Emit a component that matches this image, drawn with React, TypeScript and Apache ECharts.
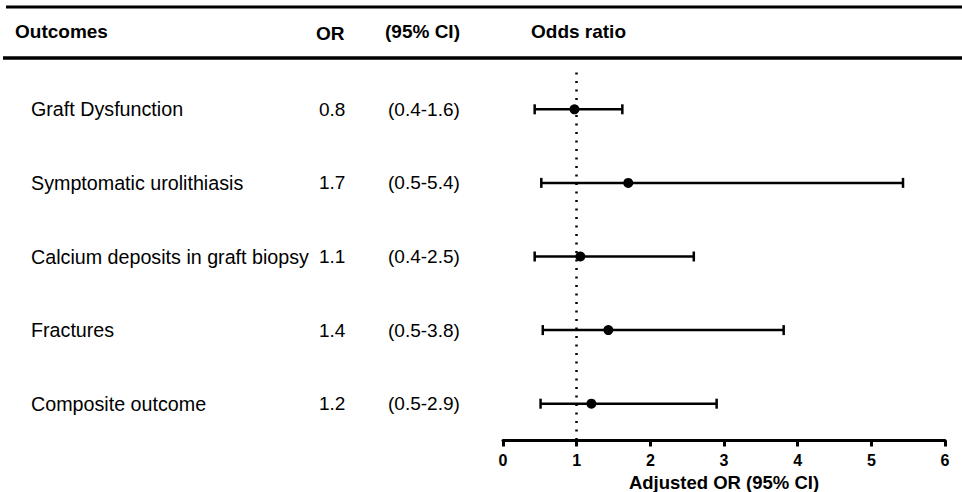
import React, { useEffect, useRef } from "react";
import * as echarts from "echarts";

const outcomes = [
  "Graft Dysfunction",
  "Symptomatic urolithiasis",
  "Calcium deposits in graft biopsy",
  "Fractures",
  "Composite outcome",
];
const orLabels = ["0.8", "1.7", "1.1", "1.4", "1.2"];
const ciLabels = ["(0.4-1.6)", "(0.5-5.4)", "(0.4-2.5)", "(0.5-3.8)", "(0.5-2.9)"];
// plotted positions
const pointEstimates = [0.97, 1.7, 1.05, 1.43, 1.2];
const ciLow = [0.43, 0.52, 0.43, 0.54, 0.51];
const ciHigh = [1.62, 5.43, 2.59, 3.81, 2.9];
const xTicks = [0, 1, 2, 3, 4, 5, 6];
const headers = ["Outcomes", "OR", "(95% CI)", "Odds ratio"];

const FONT = "'Liberation Sans', Arial, Helvetica, sans-serif";

export default function App() {
  const ref = useRef<HTMLDivElement>(null);
  useEffect(() => {
    if (!ref.current) return;
    const chart = echarts.init(ref.current, null, { renderer: "svg" });
    const rows = outcomes.map((_, i) => i);
    const option: any = {
      animation: false,
      backgroundColor: "#fff",
      grid: {
        left: 503,
        right: 17,
        top: 72.5,
        bottom: 51.5,
        containLabel: false,
        outerBoundsMode: "none",
      },
      xAxis: {
        type: "value",
        min: xTicks[0],
        max: xTicks[xTicks.length - 1],
        interval: 1,
        splitLine: { show: false },
        axisLine: { show: true, onZero: false, lineStyle: { color: "#000", width: 3 } },
        axisTick: { show: true, length: 6, lineStyle: { color: "#000", width: 3 } },
        axisLabel: {
          color: "#000",
          fontFamily: FONT,
          fontWeight: "bold",
          fontSize: 16,
          lineHeight: 16,
          margin: 12,
        },
        name: "Adjusted OR (95% CI)",
        nameLocation: "middle",
        nameGap: 32,
        nameMoveOverlap: false,
        nameTextStyle: {
          color: "#000",
          fontFamily: FONT,
          fontWeight: "bold",
          fontSize: 18.5,
          lineHeight: 19,
        },
      },
      yAxis: {
        type: "value",
        min: -0.5,
        max: 4.5,
        inverse: true,
        show: false,
      },
      graphic: [
        { type: "line", shape: { x1: 6, y1: 7, x2: 962, y2: 7 }, style: { stroke: "#000", lineWidth: 3 } },
        { type: "line", shape: { x1: 3, y1: 58, x2: 962, y2: 58 }, style: { stroke: "#000", lineWidth: 3.5 } },
        ...headers.map((h, i) => ({
          type: "text",
          x: [15, 316, 385, 531][i],
          y: [31, 33, 31, 31][i],
          style: {
            text: h,
            fill: "#000",
            font: `bold 19px ${FONT}`,
            textVerticalAlign: "middle",
            verticalAlign: "middle",
          },
        })),
      ],
      series: [
        {
          type: "custom",
          name: "labels",
          clip: false,
          data: rows.map((r) => [0, r]),
          renderItem: (params: any, api: any) => {
            const i = params.dataIndex;
            const y = api.coord([0, api.value(1)])[1];
            const mk = (text: string, x: number, size: number) => ({
              type: "text",
              x,
              y,
              style: {
                text,
                fill: "#000",
                font: `${size}px ${FONT}`,
                verticalAlign: "middle",
                textVerticalAlign: "middle",
              },
            });
            return {
              type: "group",
              children: [mk(outcomes[i], 31, 19.7), mk(orLabels[i], 319, 19), mk(ciLabels[i], 388, 19)],
            };
          },
          z: 3,
        },
        {
          type: "custom",
          name: "ci",
          clip: false,
          data: rows.map((r) => [ciLow[r], ciHigh[r], r]),
          renderItem: (params: any, api: any) => {
            const lo = api.coord([api.value(0), api.value(2)]);
            const hi = api.coord([api.value(1), api.value(2)]);
            const st = { stroke: "#000", lineWidth: 2.5 };
            const cap = 5;
            return {
              type: "group",
              children: [
                { type: "line", shape: { x1: lo[0], y1: lo[1], x2: hi[0], y2: hi[1] }, style: st },
                { type: "line", shape: { x1: lo[0], y1: lo[1] - cap, x2: lo[0], y2: lo[1] + cap }, style: st },
                { type: "line", shape: { x1: hi[0], y1: hi[1] - cap, x2: hi[0], y2: hi[1] + cap }, style: st },
              ],
            };
          },
          z: 4,
        },
        {
          type: "scatter",
          name: "OR",
          data: rows.map((r) => [pointEstimates[r], r]),
          symbol: "circle",
          symbolSize: 10,
          itemStyle: { color: "#000", opacity: 1 },
          z: 5,
          markLine: {
            silent: true,
            symbol: "none",
            label: { show: false },
            lineStyle: { color: "#000", width: 2.5, type: [2, 6.5], opacity: 1 },
            data: [{ xAxis: 1 }],
          },
        },
      ],
    };
    chart.setOption(option);
    return () => chart.dispose();
  }, []);
  return (
    <div
      ref={ref}
      style={{ position: "absolute", left: 0, top: 0, width: 962, height: 492 }}
    />
  );
}
